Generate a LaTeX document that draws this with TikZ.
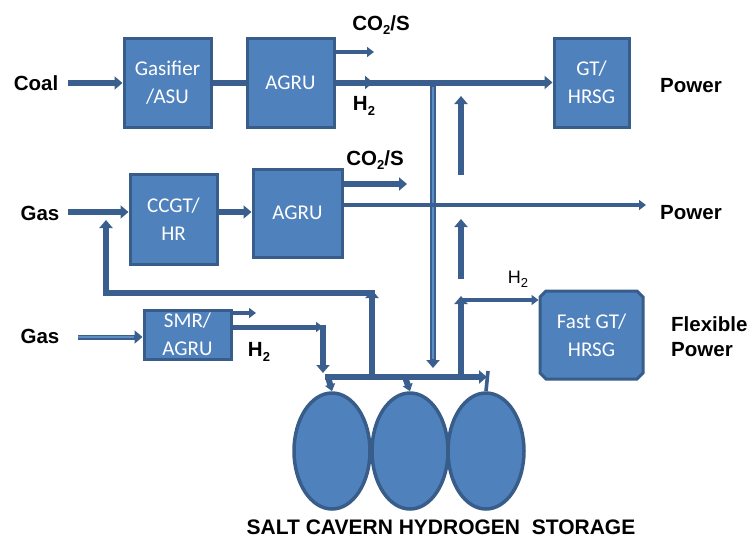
\documentclass[tikz,border=0pt]{standalone}
\usepackage{fontspec}
\setmainfont{Liberation Sans}
\newfontfamily\boxfont{Carlito}
\usetikzlibrary{arrows.meta,shapes.geometric,shapes.misc}
\definecolor{boxfill}{HTML}{4F81BD}
\definecolor{boxline}{HTML}{385D8A}
\definecolor{pipe}{HTML}{3A5F8E}
\definecolor{pipelight}{HTML}{5E8CC4}
\newcommand{\subtwo}{\raisebox{-0.4ex}{\fontsize{13}{13}\selectfont 2}}
\begin{document}
\begin{tikzpicture}[x=1pt,y=-1pt,
  unit/.style={draw=boxline, fill=boxfill, line width=3pt, text=white,
    font=\boxfont\fontsize{21}{28}\selectfont, align=center, inner sep=0pt},
  lbl/.style={font=\fontsize{20.5}{24}\selectfont\bfseries, inner sep=0pt},
  thickpipe/.style={draw=pipe, line width=6pt},
  midpipe/.style={draw=pipe, line width=5pt},
  thinpipe/.style={draw=pipe, line width=3.6pt},
  stripe/.style={draw=pipelight, line width=1.2pt},
  bigtip/.style={-{Triangle[length=8pt,width=13pt]}},
  smalltip/.style={-{Triangle[length=7pt,width=10pt]}},
  cavern/.style={ellipse, draw=boxline, fill=boxfill, line width=3.5pt,
    minimum width=76pt, minimum height=116pt, inner sep=0pt},
]
\useasboundingbox (0,0) rectangle (752,538);

% units
\node[unit, minimum width=87pt, minimum height=89pt] (gasif) at (167.5,82.5) {Gasifier\\/ASU};
\node[unit, minimum width=87pt, minimum height=89pt] (agru1) at (290.5,82.5) {AGRU};
\node[unit, minimum width=75pt, minimum height=89pt] (gt) at (591.5,82.5) {GT/\\HRSG};
\node[unit, minimum width=87pt, minimum height=90pt] (ccgt) at (173.5,219) {CCGT/\\HR};
\node[unit, minimum width=89pt, minimum height=88pt] (agru2) at (297.5,213) {AGRU};
\node[unit, minimum width=87pt, minimum height=49pt] (smr) at (187.5,334.5) {SMR/\\AGRU};
\node[unit, chamfered rectangle, chamfered rectangle xsep=3pt, chamfered rectangle ysep=3pt, minimum width=103pt, minimum height=88pt] (fastgt) at (591.5,335) {Fast GT/\\HRSG};

% caverns
\node[cavern] (cav1) at (332,451) {};
\node[cavern] (cav2) at (410,451) {};
\node[cavern] (cav3) at (486,451) {};

% labels
\node[lbl] (coal) at (36,83) {Coal};
\node[lbl] (gasA) at (40,213) {Gas};
\node[lbl] (gasB) at (40,336) {Gas};
\node[lbl] (pw1) at (691,86) {Power};
\node[lbl] (pw2) at (691,213) {Power};
\node[lbl, anchor=west, align=left, font=\fontsize{20.5}{25}\selectfont\bfseries] (flex) at (671,337) {Flexible\\Power};
\node[lbl] (co2a) at (381,25) {CO\subtwo/S};
\node[lbl] (co2b) at (375,160) {CO\subtwo/S};
\node[lbl] (h2a) at (364,106) {H\subtwo};
\node[lbl] (h2b) at (259,352) {H\subtwo};
\node[font=\fontsize{18}{18}\selectfont, inner sep=0pt] (h2c) at (518,279) {H\subtwo};
\node[lbl, font=\fontsize{21}{24}\selectfont\bfseries] (title) at (441,527) {SALT CAVERN HYDROGEN\ \ STORAGE};

% row 1
\coordinate (coalS) at (68,83);
\draw[thickpipe,bigtip] (coalS) -- (gasif.west |- coalS);
\draw[thickpipe] (gasif.east |- coalS) -- (agru1.west |- coalS);
\coordinate (co2aE) at (374,52);
\draw[thinpipe,smalltip] (agru1.east |- co2aE) -- (co2aE);
\coordinate (h2arr) at (373,82.5);
\coordinate (j1) at (433,82.5);
\draw[thickpipe,bigtip] (agru1.east) -- (gt.west);
\draw[thickpipe,bigtip] (agru1.east) -- (h2arr);
\coordinate (j1b) at (433,368);
\draw[thickpipe,bigtip] ([yshift=-2pt]j1) -- (j1b);
\draw[stripe] ([yshift=-4pt]j1) -- ([yshift=9pt]j1b);
\coordinate (u1s) at (461,175); \coordinate (u1e) at (461,96);
\draw[thickpipe,bigtip] (u1s) -- (u1e);
\coordinate (u2s) at (461,279); \coordinate (u2e) at (461,219);
\draw[thickpipe,bigtip] (u2s) -- (u2e);

% row 2
\coordinate (gasAS) at (68,212);
\draw[thickpipe,bigtip] (gasAS) -- (ccgt.west |- gasAS);
\draw[thickpipe,bigtip] (ccgt.east |- gasAS) -- (agru2.west |- gasAS);
\coordinate (co2bE) at (407,184);
\draw[thickpipe,bigtip] (agru2.east |- co2bE) -- (co2bE);
\coordinate (pw2E) at (646,205);
\draw[thinpipe,smalltip] (agru2.east |- pw2E) -- (pw2E);

% recycle to CCGT
\coordinate (m1) at (372,377); \coordinate (r1) at (372,290);
\draw[thickpipe,bigtip] (m1) -- (r1);
\coordinate (r2) at (375,293); \coordinate (r3) at (106,293); \coordinate (r4) at (106,220);
\draw[thickpipe,bigtip] (r2) -- (r3) -- (r4);

% row 3
\coordinate (gasBS) at (78,337);
\draw[midpipe,bigtip] (gasBS) -- (smr.west |- gasBS);
\draw[stripe] (gasBS) -- ([xshift=-9pt]smr.west |- gasBS);
\coordinate (co2cE) at (256,313);
\draw[thinpipe,smalltip] (smr.east |- co2cE) -- (co2cE);
\coordinate (h2c1) at (323,327); \coordinate (h2c2) at (323,373);
\draw[midpipe,smalltip] (smr.east |- h2c1) -- (h2c1);
\draw[thickpipe,bigtip] ([yshift=2.5pt]h2c1) -- (h2c2);

% manifold
\coordinate (mL) at (325,377); \coordinate (mR) at (487,377);
\draw[thickpipe,bigtip] (mL) -- (mR);
\coordinate (m0) at (328,377);
\draw[thickpipe,smalltip] (m0) -- (cav1.north);
\coordinate (m2) at (405,377);
\draw[thickpipe,smalltip] (m2) -- (cav2.north);
\coordinate (m3) at (488,371);
\draw[thinpipe] (m3) -- (cav3.north);

% flexible power branch
\coordinate (f1) at (461,377); \coordinate (f2) at (461,296);
\draw[thickpipe,bigtip] (f1) -- (f2);
\coordinate (f3) at (461,300);
\draw[thinpipe,smalltip] (f3) -- (fastgt.west |- f3);
\end{tikzpicture}
\end{document}
